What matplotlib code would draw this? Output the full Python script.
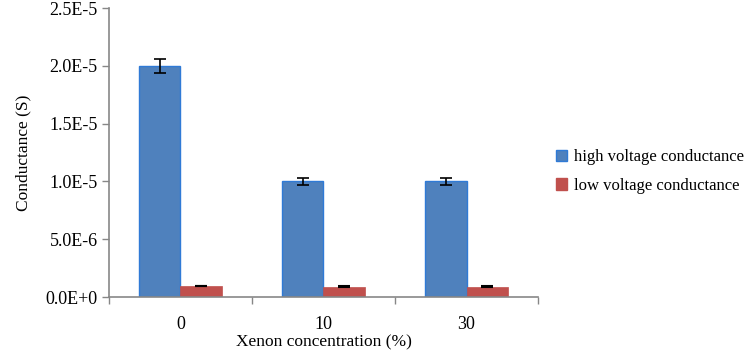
import numpy as np
import matplotlib.pyplot as plt
from matplotlib.ticker import FixedLocator
from matplotlib.patches import Patch

plt.rcParams['font.family'] = ['Liberation Serif', 'DejaVu Serif']

# 数据
categories = ['0', '10', '30']
high_voltage = [2.0e-5, 1.0e-5, 1.0e-5]
high_err = [6e-7, 2.8e-7, 2.8e-7]
low_voltage = [9.5e-7, 9.0e-7, 9.0e-7]
low_err = [3e-8, 3e-8, 3e-8]
y_ticks = [0, 5e-6, 1e-5, 1.5e-5, 2e-5, 2.5e-5]
y_labels = ['0.0E+0', '5.0E-6', '1.0E-5', '1.5E-5', '2.0E-5', '2.5E-5']

blue = '#4F81BD'
red = '#C0504D'
grey = '#878787'

fig = plt.figure(figsize=(7.49, 3.56), dpi=100)
ax = fig.add_axes([0.1455, 0.1657, 0.5728, 0.8118])

x = np.arange(len(categories))
w = 0.29
ax.bar(x - w / 2, high_voltage, w, color=blue, edgecolor='#2F7AD6', linewidth=1.0,
       yerr=high_err, error_kw=dict(ecolor='black', elinewidth=1.2, capsize=4, capthick=1.2))
ax.bar(x + w / 2, low_voltage, w, color=red, edgecolor=red, linewidth=0.5,
       yerr=low_err, error_kw=dict(ecolor='black', elinewidth=1.2, capsize=4, capthick=1.5))

ax.set_xlim(-0.5, 2.5)
ax.set_ylim(0, 2.5e-5)
ax.set_yticks(y_ticks)
ax.set_yticklabels(y_labels)
ax.set_xticks(x)
ax.set_xticklabels(categories)
ax.xaxis.set_minor_locator(FixedLocator([-0.5, 0.5, 1.5, 2.5]))
ax.tick_params(axis='x', which='major', length=0, pad=14, labelsize=13)
ax.tick_params(axis='x', which='minor', length=5, color=grey, width=1)
ax.tick_params(axis='y', length=5, color=grey, width=1, labelsize=13, pad=3)

for s in ['top', 'right']:
    ax.spines[s].set_visible(False)
for s in ['left', 'bottom']:
    ax.spines[s].set_color(grey)
    ax.spines[s].set_linewidth(1.2)

ax.set_ylabel('Conductance (S)', fontsize=12.5, labelpad=10)
ax.set_xlabel('Xenon concentration (%)', fontsize=12.5, labelpad=1)

handles = [Patch(facecolor=blue, edgecolor='#2F7AD6'), Patch(facecolor=red, edgecolor=red)]
fig.legend(handles, ['high voltage conductance', 'low voltage conductance'],
           loc='center left', bbox_to_anchor=(0.722, 0.518), frameon=False,
           fontsize=12, handlelength=0.7, handleheight=0.7, handletextpad=0.4,
           labelspacing=0.75)

fig.savefig('out.png', dpi=100)
